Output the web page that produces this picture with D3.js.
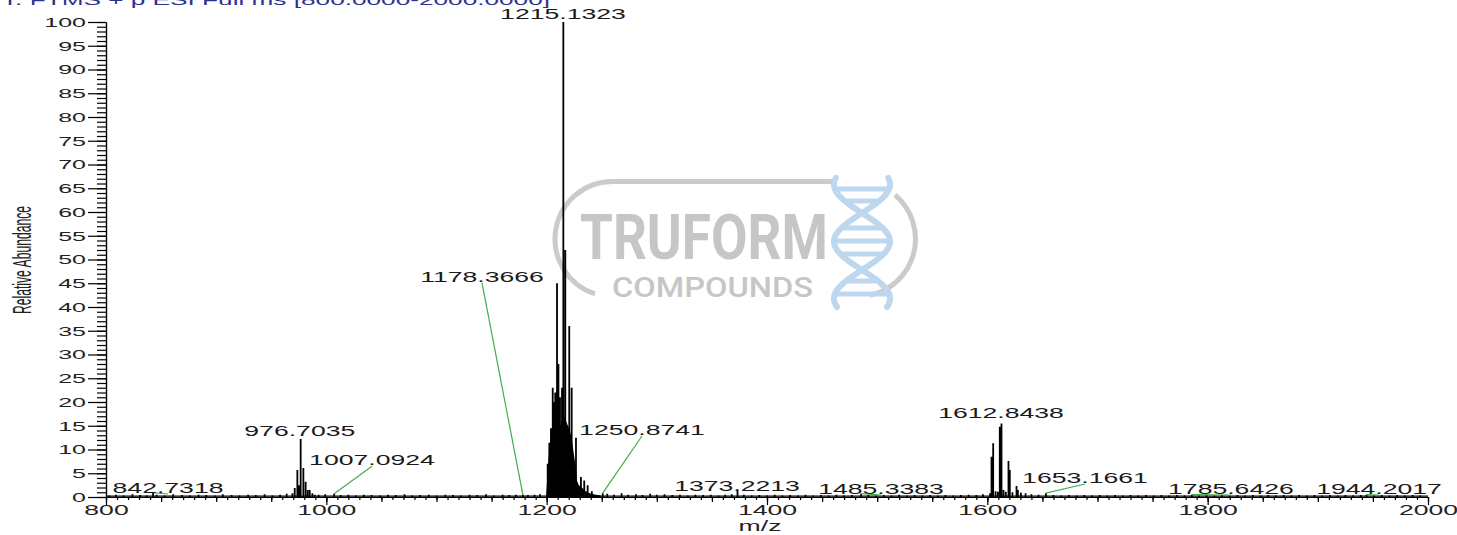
<!DOCTYPE html>
<html><head><meta charset="utf-8">
<script src="https://cdn.jsdelivr.net/npm/d3@7"></script>
<style>html,body{margin:0;padding:0;background:#fff;overflow:hidden}svg{display:block}</style>
</head><body><svg id="c" width="1457" height="535"></svg>
<script>
// ---------------- data ----------------
const titleText = "T: FTMS + p ESI Full ms [800.0000-2000.0000]";
const xLabel = "m/z";
const yLabel = "Relative Abundance";
const xTicks = [800, 1000, 1200, 1400, 1600, 1800, 2000];
const yTicks = [0,5,10,15,20,25,30,35,40,45,50,55,60,65,70,75,80,85,90,95,100];

// resolved peaks (m/z, relative abundance)
const peakMz  = [842.7318, 969.2, 971.3, 973.7, 975.3, 976.7035, 979.15, 981.2, 983.1, 984.9, 987.3, 989.4, 1007.0924,
                 1178.3666, 1200.9, 1202.4, 1203.9, 1205.5, 1206.6, 1207.8, 1209.4, 1210.7, 1212.1, 1213.9, 1215.1323,
                 1216.9, 1220.5, 1222.7, 1226.6, 1231.1, 1234.1, 1237.2, 1241.0, 1250.8741, 1373.2213, 1485.3383,
                 1602.5, 1603.8, 1605.3, 1607.5, 1609.6, 1611.3, 1612.8438, 1614.7, 1616.8, 1619.2, 1620.4, 1622.8,
                 1626.5, 1627.7, 1630.5, 1634.7, 1640.0, 1646.5, 1653.1661, 1785.6426, 1944.2017];
const peakInt = [0.9, 0.8, 1.9, 5.7, 2.5, 12.2, 6.1, 3.2, 1.5, 1.5, 0.8, 0.5, 0.7,
                 0.5, 7, 11.4, 14.5, 23, 20, 22, 45, 28, 21, 23, 100,
                 52, 36, 23, 12.5, 4.2, 3.5, 2.5, 1.2, 0.8, 1.6, 0.7,
                 0.8, 8.5, 11.3, 1.2, 1.1, 14.8, 15.5, 1.5, 1.1, 7.6, 5.7, 1.0,
                 2.3, 1.5, 0.9, 0.8, 0.6, 0.5, 0.8, 0.5, 0.5];

// unresolved envelope under the main cluster
const envMz  = [1199.4, 1200.3, 1201.6, 1203.0, 1204.8, 1206.7, 1208.5, 1210.3, 1212.1, 1213.9, 1215.7, 1217.5,
                1219.3, 1221.1, 1222.9, 1224.7, 1226.5, 1227.4, 1229.2, 1231.9, 1235.5, 1239.1, 1244.6, 1249.0];
const envInt = [0, 3, 8, 11, 11, 10, 12, 14, 15, 16, 17, 16, 15, 14, 12, 9, 6, 3.5, 2.5, 2, 1.2, 0.8, 0.5, 0.3];

// baseline noise
const noiseMz  = [803,809,816,824,831,837,846,853,861,869,876,884,891,899,906,914,921,929,936,944,951,958,964,
                  993,999,1013,1020,1027,1034,1041,1049,1056,1063,1071,1078,1085,1093,1100,1108,1115,1122,1130,1137,1145,1152,1160,1166,1172,1183,1189,1194,
                  1255,1261,1268,1274,1281,1287,1294,1300,1307,1314,1321,1328,1335,1342,1349,1356,1362,1368,1379,1386,1393,1400,1407,1414,1421,1428,1435,1442,1449,1456,1463,1470,1477,1492,1499,1506,1513,1520,1527,1534,1541,1548,1555,1562,1569,1576,1583,1590,1596,
                  1660,1667,1674,1681,1688,1695,1702,1709,1716,1723,1730,1737,1744,1751,1758,1765,1772,1779,1792,1799,1806,1813,1820,1827,1834,1841,1848,1855,1862,1869,1876,1883,1890,1897,1904,1911,1918,1925,1932,1939,1951,1958,1965,1972,1979,1986,1993];
const noiseInt = [.3,.5,.3,.6,.4,.3,.5,.3,.6,.4,.3,.5,.4,.3,.6,.4,.3,.5,.4,.6,.3,.5,.7,
                  .5,.6,.4,.5,.3,.5,.4,.3,.5,.4,.6,.3,.4,.5,.3,.5,.4,.3,.5,.4,.6,.3,.5,.4,.5,.4,.5,.6,
                  .7,.5,.8,.5,.6,.4,.7,.5,.6,.4,.5,.3,.5,.4,.5,.3,.5,.6,.5,.3,.4,.3,.5,.3,.4,.3,.5,.3,.4,.3,.5,.3,.4,.4,.3,.4,.3,.5,.3,.4,.3,.4,.3,.4,.3,.4,.5,.4,.6,
                  .4,.3,.4,.3,.4,.3,.4,.3,.4,.3,.4,.3,.4,.3,.4,.3,.4,.3,.3,.4,.3,.4,.3,.4,.3,.4,.3,.4,.3,.4,.3,.4,.3,.4,.3,.4,.3,.4,.3,.4,.3,.4,.3,.4,.3,.4,.3];

// annotated peaks
const annMz    = [842.7318, 976.7035, 1007.0924, 1178.3666, 1215.1323, 1250.8741, 1373.2213, 1485.3383, 1612.8438, 1653.1661, 1785.6426, 1944.2017];
const annInt   = [0.9, 12.2, 0.7, 0.5, 100, 0.8, 1.6, 0.7, 15.5, 0.8, 0.5, 0.5];
const annText  = ["842.7318","976.7035","1007.0924","1178.3666","1215.1323","1250.8741","1373.2213","1485.3383","1612.8438","1653.1661","1785.6426","1944.2017"];
// label anchor (data units)
const annLabelMz  = [856.3, 975.9, 1041.4, 1141.3, 1214.8, 1286.5, 1372.8, 1503.5, 1612.4, 1688.6, 1821.1, 1955.5];
const annLabelInt = [0.84, 12.8, 6.7, 45.3, 100.6, 13.05, 1.26, 0.63, 16.6, 2.95, 0.63, 0.63];

// ---------------- chart ----------------
const svg = d3.select("#c");
const x = d3.scaleLinear().domain([800, 2000]).range([106, 1428]);
const y = d3.scaleLinear().domain([0, 100]).range([497, 22]);
const FONT = "'Liberation Sans', Arial, sans-serif";

// watermark logo
const logo = svg.append("g");
const gray = "#cbcbcb";
const r = 57.5, cy = 239, lcx = 612.5, rcx = 858;
const lp = d3.path();
lp.moveTo(595, cy + Math.sqrt(r*r - 17.5*17.5));
lp.arc(lcx, cy, r, Math.atan2(Math.sqrt(r*r-17.5*17.5), -17.5), 1.5*Math.PI, false);
lp.lineTo(832, cy - r);
logo.append("path").attr("d", lp.toString()).attr("fill","none").attr("stroke",gray).attr("stroke-width",5);
const rp = d3.path();
const a0 = -50*Math.PI/180, a1 = Math.atan2(Math.sqrt(r*r-144), 12);
rp.moveTo(rcx + r*Math.cos(a0), cy + r*Math.sin(a0));
rp.arc(rcx, cy, r, a0, a1, false);
logo.append("path").attr("d", rp.toString()).attr("fill","none").attr("stroke",gray).attr("stroke-width",5);
logo.append("text").attr("x",580).attr("y",259).attr("font-family","Roboto, sans-serif").attr("font-weight",700)
  .attr("font-size",63).attr("fill","#c6c6c6").attr("textLength",248).attr("lengthAdjust","spacingAndGlyphs").text("TRUFORM");
logo.append("text").attr("x",612).attr("y",297).attr("font-family","Roboto, sans-serif").attr("font-weight",500)
  .attr("font-size",27).attr("fill","#c6c6c6").attr("textLength",201).attr("lengthAdjust","spacingAndGlyphs").text("COMPOUNDS");
// DNA helix
const blue = "#bdd7ee", hcx = 862, amp = 28;
const hx = (yy, s) => hcx + s*amp*Math.sin(Math.PI*(yy-213)/57);
const ys = d3.range(178, 307.5, 1);
[1,-1].forEach(s => {
  logo.append("path").attr("d", d3.line().x(d=>hx(d,s)).y(d=>d)(ys))
    .attr("fill","none").attr("stroke",blue).attr("stroke-width",6).attr("stroke-linecap","round");
});
[189, 201, 228, 241, 254, 281, 294].forEach(yy => {
  const w = Math.abs(hx(yy,1)-hcx);
  logo.append("line").attr("x1",hcx-w+2).attr("x2",hcx+w-2).attr("y1",yy).attr("y2",yy)
    .attr("stroke",blue).attr("stroke-width",5);
});

// title
svg.append("text").attr("x",2).attr("y",5).attr("font-family",FONT).attr("font-size",14)
  .attr("fill","#2e3192").attr("textLength",548).attr("lengthAdjust","spacingAndGlyphs").text(titleText);

// axes
function styleAxis(g){ g.selectAll("path,line").attr("stroke","#000").attr("stroke-width",1.2); }
const gy = svg.append("g").attr("transform",`translate(${x(800)},0)`);
gy.call(d3.axisLeft(y).tickValues(d3.range(0,101,1)).tickSize(9).tickSizeOuter(0).tickFormat("")).call(styleAxis);
const gyM = svg.append("g").attr("transform",`translate(${x(800)},0)`);
gyM.call(d3.axisLeft(y).tickValues(yTicks).tickSize(18).tickSizeOuter(0)).call(styleAxis);
gyM.selectAll("text").attr("font-family",FONT).attr("font-size",13.5).attr("fill","#222")
  .attr("x",-20/1.85).attr("transform","scale(1.85,1)");

const gx1 = svg.append("g").attr("transform",`translate(0,${y(0)})`);
gx1.call(d3.axisBottom(x).tickValues(d3.range(800,2001,10)).tickSize(3).tickSizeOuter(0).tickFormat("")).call(styleAxis);
const gx2 = svg.append("g").attr("transform",`translate(0,${y(0)})`);
gx2.call(d3.axisBottom(x).tickValues(d3.range(800,2001,50)).tickSize(5).tickSizeOuter(0).tickFormat("")).call(styleAxis);
const gx3 = svg.append("g").attr("transform",`translate(0,${y(0)})`);
gx3.call(d3.axisBottom(x).tickValues(xTicks).tickSize(8).tickSizeOuter(0).tickPadding(0).tickFormat(d3.format("d"))).call(styleAxis);
gx3.selectAll("text").attr("font-family",FONT).attr("font-size",14).attr("fill","#222")
  .attr("transform","scale(1.9,1)");

// axis titles
svg.append("g").attr("transform",`translate(${x(800)+654},531) scale(1.9,1)`)
  .append("text").attr("text-anchor","middle").attr("font-family",FONT).attr("font-size",14).attr("fill","#222").text(xLabel);
svg.append("g").attr("transform","translate(31,260) scale(2.2,1) rotate(-90)")
  .append("text").attr("text-anchor","middle").attr("font-family",FONT).attr("font-size",12).attr("fill","#222")
  .attr("textLength",108).attr("lengthAdjust","spacingAndGlyphs").text(yLabel);

// spectrum
const env = envMz.map((m,i)=>({m, v:envInt[i]}));
svg.append("path").attr("d", d3.area().x(d=>x(d.m)).y0(y(0)).y1(d=>y(d.v))(env)).attr("fill","#000");
const spikes = peakMz.map((m,i)=>({m, v:peakInt[i]})).concat(noiseMz.map((m,i)=>({m, v:noiseInt[i]})));
const sp = d3.path();
spikes.forEach(d => { sp.moveTo(x(d.m), y(0)); sp.lineTo(x(d.m), y(d.v)); });
svg.append("path").attr("d", sp.toString()).attr("stroke","#000").attr("stroke-width",1.8).attr("fill","none");
svg.append("line").attr("x1",x(800)).attr("x2",x(2000)).attr("y1",y(0)-0.8).attr("y2",y(0)-0.8).attr("stroke","#000").attr("stroke-width",1.2);

// annotations
annMz.forEach((m,i) => {
  const px = x(m), py = y(annInt[i]), lx = x(annLabelMz[i]), ly = y(annLabelInt[i]);
  if (Math.abs(lx-px) > 4) {
    svg.append("line").attr("x1",px).attr("y1",py).attr("x2",lx).attr("y2",ly+1)
      .attr("stroke","#3fae49").attr("stroke-width",1.2);
  }
  svg.append("g").attr("transform",`translate(${lx},${ly}) scale(1.9,1)`)
    .append("text").attr("text-anchor","middle").attr("font-family",FONT).attr("font-size",14)
    .attr("fill","#1a1a1a").text(annText[i]);
});
</script></body></html>
